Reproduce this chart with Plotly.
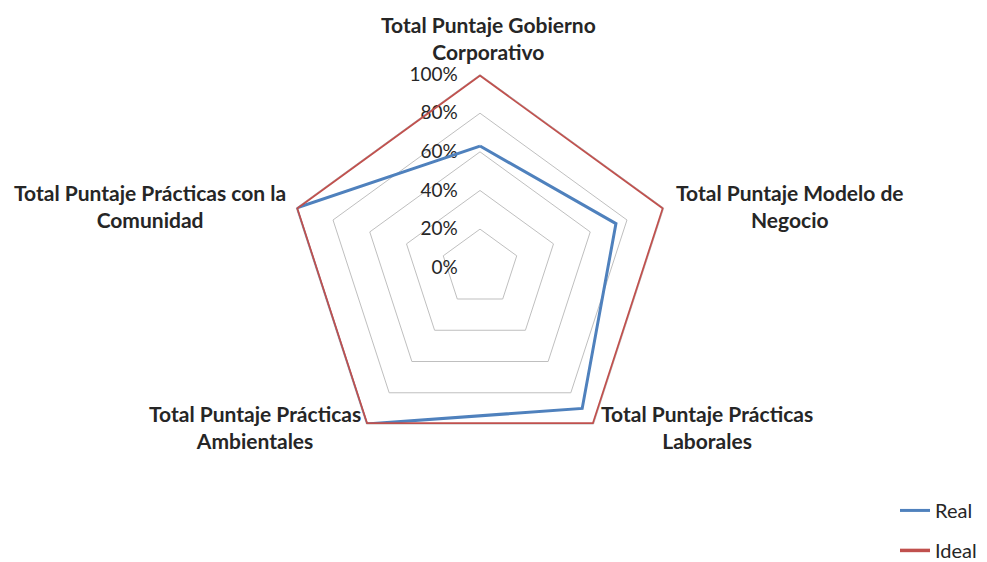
import plotly.graph_objects as go

categories = [
    "Total Puntaje Gobierno Corporativo",
    "Total Puntaje Modelo de Negocio",
    "Total Puntaje Prácticas Laborales",
    "Total Puntaje Prácticas Ambientales",
    "Total Puntaje Prácticas con la Comunidad",
]
category_labels = [
    "Total Puntaje Gobierno<br>Corporativo",
    "Total Puntaje Modelo de<br>Negocio",
    "Total Puntaje Prácticas<br>Laborales",
    "Total Puntaje Prácticas<br>Ambientales",
    "Total Puntaje Prácticas con la<br>Comunidad",
]
real = [0.63, 0.74, 0.90, 1.0, 1.0]
ideal = [1.0, 1.0, 1.0, 1.0, 1.0]
radial_ticks = [0, 0.2, 0.4, 0.6, 0.8, 1.0]
series_names = ["Real", "Ideal"]

# label anchor positions (pixels in the 987x562 figure)
label_pos = [(480, 32), (782, 211), (699, 447), (247, 447), (142, 211)]

W, H = 987, 562
FONT = "Lato"

fig = go.Figure()
for name, vals, color, grp, lw in [
    (series_names[0], real, "#4F81BD", "a", 3),
    (series_names[1], ideal, "#C0504D", "b", 3.5),
]:
    fig.add_trace(go.Scatterpolar(
        r=vals + vals[:1],
        theta=categories + categories[:1],
        mode="lines",
        name=name,
        legendgroup=grp,
        line=dict(color=color, width=lw),
    ))

cx, cy, R = 472, 277, 206
fig.update_layout(
    width=W, height=H,
    margin=dict(l=0, r=0, t=0, b=0),
    paper_bgcolor="white",
    plot_bgcolor="white",
    font=dict(family=FONT, size=19, color="#262626"),
    polar=dict(
        domain=dict(x=[(cx - R) / W, (cx + R) / W],
                    y=[(H - cy - R) / H, (H - cy + R) / H]),
        gridshape="linear",
        bgcolor="white",
        angularaxis=dict(
            direction="clockwise", rotation=90,
            showgrid=False, showticklabels=False, ticks="",
            showline=True, linecolor="#BFBFBF", linewidth=1,
            layer="below traces",
        ),
        radialaxis=dict(
            range=[0, 1], tickvals=radial_ticks, tickformat=".0%",
            angle=90, tickangle=90, side="counterclockwise",
            showline=False, ticks="outside", ticklen=15, tickcolor="rgba(0,0,0,0)",
            gridcolor="#BFBFBF", gridwidth=1, layer="below traces",
            tickfont=dict(family=FONT, size=19, color="#262626"),
        ),
    ),
    showlegend=True,
    legend=dict(
        x=887 / W, y=1 - 515 / H, xanchor="left", yanchor="top",
        traceorder="grouped", tracegroupgap=11,
        font=dict(family=FONT, size=20, color="#262626"),
        bgcolor="rgba(0,0,0,0)",
    ),
)

for text, (px, py) in zip(category_labels, label_pos):
    fig.add_annotation(
        x=px / W, y=1 - py / H, xref="paper", yref="paper",
        text=f"<b>{text}</b>", showarrow=False,
        xanchor="center", yanchor="middle", align="center",
        font=dict(family=FONT, size=21, color="#262626"),
    )

fig.write_html("out.html")
